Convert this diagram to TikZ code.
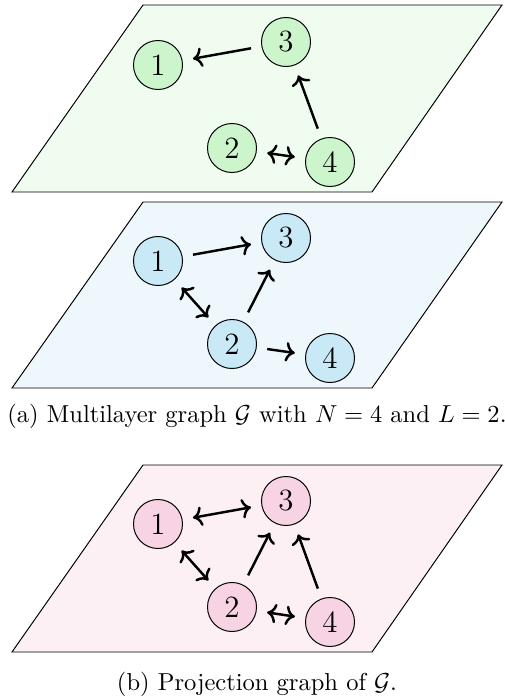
\documentclass[tikz,border=0pt]{standalone}
\usetikzlibrary{arrows.meta}
\definecolor{planeG}{HTML}{F0FCF0}
\definecolor{nodeG}{HTML}{CCF5CC}
\definecolor{planeB}{HTML}{EEF7FC}
\definecolor{nodeB}{HTML}{C9E9F7}
\definecolor{planeP}{HTML}{FCF0F5}
\definecolor{nodeP}{HTML}{F8D3E3}
\begin{document}
\begin{tikzpicture}[x=0.408pt,y=-0.408pt,
  plane/.style={draw=black,line width=0.4pt},
  vert/.style={circle,draw=black,line width=0.4pt,minimum size=20pt,inner sep=0pt,font=\fontsize{12.6}{15}\selectfont},
  edge/.style={line width=1pt,shorten >=4.3pt,shorten <=4.3pt},
  captext/.style={anchor=base,font=\fontsize{10}{12}\selectfont}]
\useasboundingbox (0,0) rectangle (505,696);
% layer 1
\begin{scope}[yshift=-5*0.408pt]
\filldraw[plane,fill=planeG] (143,0) -- (502,0) -- (372,187) -- (12,187) -- cycle;
\node[vert,fill=nodeG] (a1) at (158,60) {1};
\node[vert,fill=nodeG] (a3) at (286,37) {3};
\node[vert,fill=nodeG] (a2) at (232,143) {2};
\node[vert,fill=nodeG] (a4) at (330,157) {4};
\draw[edge,->] (a3) -- (a1);
\draw[edge,->] (a4) -- (a3);
\draw[edge,<->] (a2) -- (a4);
\end{scope}
% layer 2
\begin{scope}[yshift=-202*0.408pt]
\filldraw[plane,fill=planeB] (143,0) -- (502,0) -- (372,186) -- (12,186) -- cycle;
\node[vert,fill=nodeB] (b1) at (158,59) {1};
\node[vert,fill=nodeB] (b3) at (286,36) {3};
\node[vert,fill=nodeB] (b2) at (232,142) {2};
\node[vert,fill=nodeB] (b4) at (330,156) {4};
\draw[edge,->] (b1) -- (b3);
\draw[edge,<->] (b1) -- (b2);
\draw[edge,->] (b2) -- (b3);
\draw[edge,->] (b2) -- (b4);
\end{scope}
\node[captext] (capa) at (257,422) {(a) Multilayer graph $\mathcal{G}$ with $N=4$ and $L=2$.};
% projection
\begin{scope}[yshift=-465*0.408pt]
\filldraw[plane,fill=planeP] (143,0) -- (502,0) -- (372,187) -- (12,187) -- cycle;
\node[vert,fill=nodeP] (c1) at (158,59) {1};
\node[vert,fill=nodeP] (c3) at (286,36) {3};
\node[vert,fill=nodeP] (c2) at (232,142) {2};
\node[vert,fill=nodeP] (c4) at (330,157) {4};
\draw[edge,<->] (c1) -- (c3);
\draw[edge,<->] (c1) -- (c2);
\draw[edge,->] (c2) -- (c3);
\draw[edge,->] (c4) -- (c3);
\draw[edge,<->] (c2) -- (c4);
\end{scope}
\node[captext] (capb) at (257,690) {(b) Projection graph of $\mathcal{G}$.};
\end{tikzpicture}
\end{document}
